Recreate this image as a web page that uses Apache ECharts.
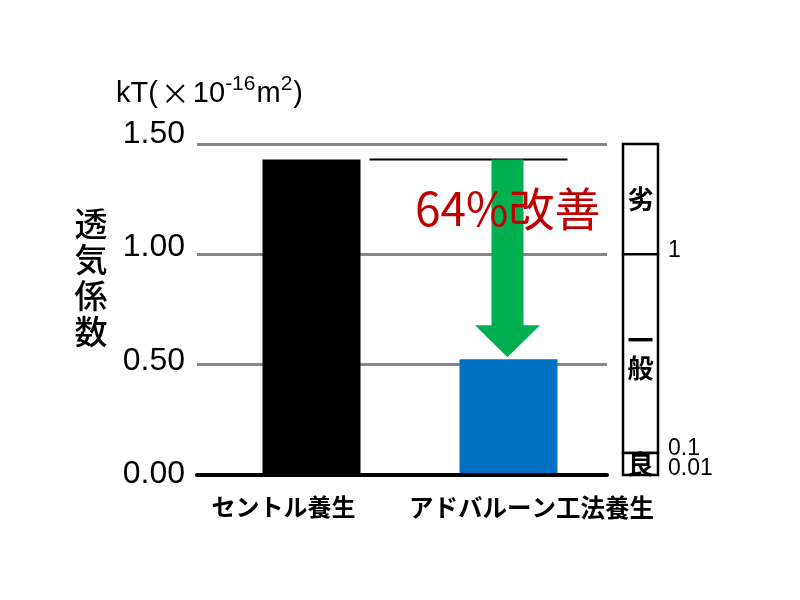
<!DOCTYPE html>
<html><head><meta charset="utf-8">
<script src="https://cdn.jsdelivr.net/npm/echarts@6/dist/echarts.min.js"></script>
<style>html,body{margin:0;padding:0;background:#fff}#c{width:800px;height:600px}</style>
</head><body><div id="c"></div>
<script>
// ---- data ----
const categories = ['セントル養生', 'アドバルーン工法養生'];
const values = [1.43, 0.525];
const barColors = ['#000000', '#0070c0'];
const yMin = 0, yMax = 1.5, yInterval = 0.5;
const gradeNames = ['劣', '一\n般', '良'];
const gradeFrom = [1, 0.1, 0];
const gradeTo = [1.5, 1, 0.1];
const gradeTicks = [1, 0.1, 0.01];
const gradeTickLabels = ['1', '0.1', '0.01'];
const improvementLabel = '64%改善';
const axisTitle = '透気係数';

const JP = '"Noto Sans CJK JP", sans-serif';
const LAT = '"Liberation Sans", Arial, sans-serif';

const chart = echarts.init(document.getElementById('c'), null, {renderer: 'canvas'});
const gridPos = {top: 144, bottom: 125};

const option = {
  animation: false,
  backgroundColor: '#fff',
  grid: [
    Object.assign({left: 197, right: 193}, gridPos),
    Object.assign({left: 213, right: 193}, gridPos),
    Object.assign({left: 623, right: 142}, gridPos),
    {left: 197, right: 193, top: 134, bottom: 125.5}
  ],
  xAxis: [
    {gridIndex: 0, type: 'category', data: categories.map(() => ''),
     axisLine: {lineStyle: {color: '#000', width: 4}}, axisTick: {show: false}, axisLabel: {show: false}, z: 5},
    {gridIndex: 1, type: 'category', data: categories,
     axisLine: {show: false}, axisTick: {show: false},
     axisLabel: {
       margin: 20, interval: 0,
       formatter: (v, i) => (i === 0 ? '{a|' : '{b|') + v + '}',
       rich: {
         a: {fontSize: 24, fontWeight: 'bold', fontFamily: JP, color: '#000', padding: [0, 56, 0, 0]},
         b: {fontSize: 24.5, fontWeight: 'bold', fontFamily: JP, color: '#000', padding: [0, 0, 0, 46]}
       }
     }},
    {gridIndex: 2, type: 'category', data: [''], show: false},
    {gridIndex: 3, type: 'category', data: [''], show: false}
  ],
  yAxis: [
    {gridIndex: 0, type: 'value', min: yMin, max: yMax, interval: yInterval,
     axisLine: {show: false}, axisTick: {show: false},
     splitLine: {lineStyle: {color: '#868686', width: 3}},
     axisLabel: {show: false}},
    {gridIndex: 1, type: 'value', min: yMin, max: yMax, show: false},
    {gridIndex: 2, type: 'value', min: yMin, max: yMax, show: false},
    {gridIndex: 3, type: 'value', min: yMin, max: yMax, interval: yInterval,
     axisLine: {show: false}, axisTick: {show: false}, splitLine: {show: false},
     axisLabel: {formatter: v => v.toFixed(2), fontSize: 32, color: '#000', fontFamily: LAT, margin: 12}}
  ],
  series: [
    {type: 'bar', xAxisIndex: 1, yAxisIndex: 1, barWidth: 98,
     data: values.map((v, i) => ({value: v, itemStyle: {color: barColors[i]}}))},
    {type: 'custom', xAxisIndex: 1, yAxisIndex: 1, z: 5,
     data: [[1, values[0]]],
     renderItem: function (params, api) {
       const p0 = api.coord([0, values[0]]);
       const p1 = api.coord([1, values[0]]);
       const tip = api.coord([1, values[1]]);
       const ax = tip[0] - 1;
       const tipY = tip[1] - 2;
       const sw = 16, hw = 32.5, hh = 32;
       return {type: 'group', children: [
         {type: 'line', shape: {x1: p0[0] + 58, y1: p0[1], x2: p1[0] + 59, y2: p0[1]}, style: {stroke: '#000', lineWidth: 2}},
         {type: 'polygon', shape: {points: [[ax - sw, p0[1]], [ax + sw, p0[1]], [ax + sw, tipY - hh], [ax + hw, tipY - hh], [ax, tipY], [ax - hw, tipY - hh], [ax - sw, tipY - hh]]},
          style: {fill: '#00b050'}}
       ]};
     }},
    {type: 'scatter', xAxisIndex: 2, yAxisIndex: 2, data: [], silent: true,
     markArea: {silent: true,
       itemStyle: {color: '#fff', borderColor: '#000', borderWidth: 2.5},
       label: {show: true, position: 'inside', fontSize: 26, fontWeight: 'bold', fontFamily: JP, color: '#000', lineHeight: 28},
       data: gradeNames.map((n, i) => [{yAxis: gradeFrom[i], name: n}, {yAxis: gradeTo[i]}])},
     markLine: {silent: true, symbol: 'none',
       lineStyle: {width: 0, color: 'rgba(0,0,0,0)'},
       label: {show: true, position: 'end', formatter: '{b}', distance: 10, offset: [0, -4], fontSize: 23, fontFamily: LAT, color: '#000'},
       data: gradeTicks.map((v, i) => ({yAxis: v, name: gradeTickLabels[i]}))}}
  ],
  graphic: [
    {type: 'text', x: 116, y: 108, z: 100,
     style: {
       text: '{m|kT(}{x|×}{m|10}{s|-16}{m|m}{s|2}{m|)}',
       verticalAlign: 'bottom',
       rich: {
         m: {fontSize: 29, fontFamily: LAT, fill: '#000', lineHeight: 34, verticalAlign: 'bottom'},
         x: {fontSize: 29, fontFamily: JP, fill: '#000', lineHeight: 34, verticalAlign: 'bottom', padding: [0, 3, 0, 3]},
         s: {fontSize: 21, fontFamily: LAT, fill: '#000', lineHeight: 34, verticalAlign: 'top', padding: [0, 1, 0, 0]}
       }
     }},
    {type: 'text', x: 91, y: 277, z: 100,
     style: {text: axisTitle.split('').join('\n'), fontSize: 33, lineHeight: 36, fontFamily: JP, fontWeight: 500, fill: '#000', align: 'center', verticalAlign: 'middle'}},
    {type: 'text', x: 415, y: 209, z: 100,
     style: {text: improvementLabel, fontSize: 46, fontFamily: JP, fill: '#c00000', align: 'left', verticalAlign: 'middle'}}
  ]
};
chart.setOption(option);
</script>
</body></html>
